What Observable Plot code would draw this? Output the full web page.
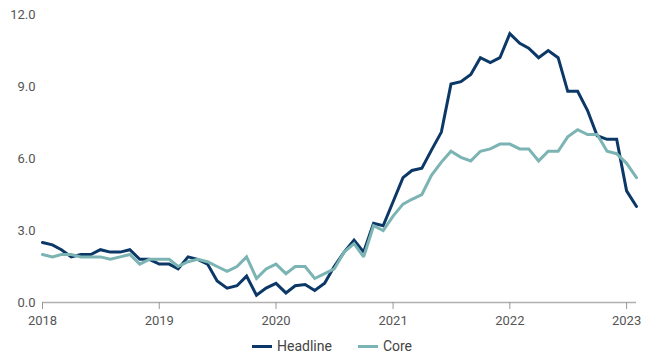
<!DOCTYPE html>
<html>
<head>
<meta charset="utf-8">
<script src="https://cdn.jsdelivr.net/npm/d3@7"></script>
<script src="https://cdn.jsdelivr.net/npm/@observablehq/plot@0.6"></script>
<style>
  html, body { margin: 0; padding: 0; background: #fff; }
  #chart { width: 650px; font-family: Roboto, "Open Sans", sans-serif; }
  .legend { display: flex; justify-content: center; gap: 26px; font-size: 14px; color: #444; margin-top: 6px; padding-left: 14px; }
  .legend span { display: inline-flex; align-items: center; }
  .legend i { display: inline-block; width: 20px; height: 3px; margin-right: 5px; }
</style>
</head>
<body>
<div id="chart"></div>
<script>
const startMonth = "2018-01-01";
const endMonth = "2023-02-01";
const seriesNames = ["Headline", "Core"];
const seriesColors = ["#0b3866", "#7bb4b3"];
const yTicks = [0, 3, 6, 9, 12];
const xTickYears = [2018, 2019, 2020, 2021, 2022, 2023];

const headline = [
  2.5, 2.4, 2.2, 1.9, 2.0, 2.0, 2.2, 2.1, 2.1, 2.2, 1.8, 1.8,
  1.6, 1.6, 1.4, 1.9, 1.8, 1.6, 0.9, 0.6, 0.7, 1.1, 0.3, 0.6,
  0.8, 0.4, 0.7, 0.75, 0.5, 0.8, 1.5, 2.1, 2.6, 2.1, 3.3, 3.2,
  4.2, 5.2, 5.5, 5.6, 6.35, 7.1, 9.1, 9.2, 9.5, 10.2, 10.0, 10.2,
  11.2, 10.8, 10.6, 10.2, 10.5, 10.2, 8.8, 8.8, 8.0, 6.95, 6.8, 6.8,
  4.65, 4.0
];
const core = [
  2.0, 1.9, 2.0, 2.0, 1.9, 1.9, 1.9, 1.8, 1.9, 2.0, 1.6, 1.8,
  1.8, 1.8, 1.5, 1.7, 1.8, 1.7, 1.5, 1.3, 1.5, 1.9, 1.0, 1.4,
  1.6, 1.2, 1.5, 1.5, 1.0, 1.2, 1.4, 2.1, 2.45, 1.9, 3.2, 3.0,
  3.6, 4.1, 4.3, 4.5, 5.3, 5.85, 6.3, 6.05, 5.9, 6.3, 6.4, 6.6,
  6.6, 6.4, 6.4, 5.9, 6.3, 6.3, 6.9, 7.2, 7.0, 7.0, 6.3, 6.2,
  5.8, 5.2
];

const months = d3.utcMonth.range(new Date(startMonth), d3.utcMonth.offset(new Date(endMonth), 1));
const rows = [];
[headline, core].forEach((vals, s) => {
  vals.forEach((v, i) => rows.push({date: months[i], value: v, series: seriesNames[s]}));
});

const chart = Plot.plot({
  width: 650,
  height: 332,
  marginTop: 14,
  marginBottom: 30,
  marginLeft: 42,
  marginRight: 14,
  style: {fontFamily: "Roboto, 'Open Sans', sans-serif", fontSize: "13px", color: "#555"},
  x: {type: "utc", domain: [new Date(startMonth), new Date(endMonth)]},
  y: {domain: [0, 12]},
  color: {domain: seriesNames, range: seriesColors},
  marks: [
    Plot.ruleY([0], {stroke: "#b0b0b0", strokeWidth: 1.5}),
    Plot.axisX(xTickYears.map(y => new Date(Date.UTC(y, 0, 1))), {
      tickFormat: d3.utcFormat("%Y"), tickSize: 7, tickPadding: 6, stroke: "#999", fill: "#555", fontSize: 13, label: null
    }),
    Plot.axisY(yTicks, {tickFormat: d => d.toFixed(1), tickSize: 0, tickPadding: 7, fill: "#555", fontSize: 13, label: null}),
    Plot.line(rows, {x: "date", y: "value", z: "series", stroke: "series", strokeWidth: 3, strokeLinejoin: "miter", strokeMiterlimit: 2})
  ]
});
document.getElementById("chart").appendChild(chart);

const legend = document.createElement("div");
legend.className = "legend";
seriesNames.forEach((n, i) => {
  const s = document.createElement("span");
  const sw = document.createElement("i");
  sw.style.background = seriesColors[i];
  s.appendChild(sw);
  s.appendChild(document.createTextNode(n));
  legend.appendChild(s);
});
document.getElementById("chart").appendChild(legend);
</script>
</body>
</html>
